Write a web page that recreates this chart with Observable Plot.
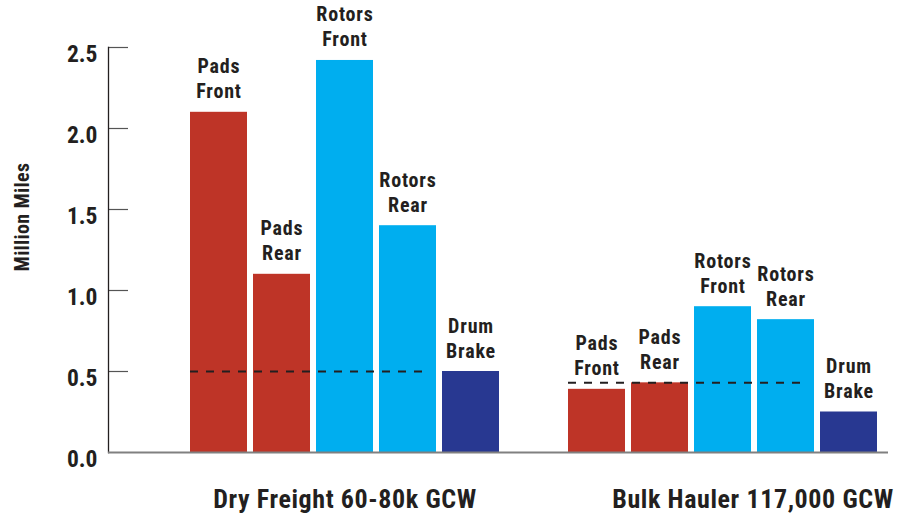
<!DOCTYPE html>
<html>
<head>
<meta charset="utf-8">
<script src="https://cdn.jsdelivr.net/npm/d3@7"></script>
<script src="https://cdn.jsdelivr.net/npm/@observablehq/plot@0.6"></script>
<style>
  html, body { margin: 0; padding: 0; background: #fff; }
  #chart svg { display: block; }
  #chart .bar-label text { letter-spacing: 0.8px; }
  #chart .group-label text { letter-spacing: 0.6px; }
  #chart .y-label text { letter-spacing: 0.4px; }
</style>
</head>
<body>
<div id="chart"></div>
<script>
// ---- data ----
const groups = ["Dry Freight 60-80k GCW", "Bulk Hauler 117,000 GCW"];
const components = ["Pads\nFront", "Pads\nRear", "Rotors\nFront", "Rotors\nRear", "Drum\nBrake"];
const dryFreight = [2.10, 1.10, 2.42, 1.40, 0.50];
const bulkHauler = [0.39, 0.43, 0.90, 0.82, 0.25];
const thresholds = [0.50, 0.43];
const componentColors = ["#BE3427", "#BE3427", "#00AEEF", "#00AEEF", "#283891"];
const yTicks = [0, 0.5, 1.0, 1.5, 2.0, 2.5];
const yLabel = "Million Miles";

// ---- build table ----
const seriesByGroup = [dryFreight, bulkHauler];
const keyOf = (g, c) => g + "|" + c;
const rows = [];
groups.forEach((g, gi) => components.forEach((c, ci) => rows.push({
  key: keyOf(g, c), group: g, label: c, value: seriesByGroup[gi][ci], color: componentColors[ci]
})));
const xDomain = [...components.map(c => keyOf(groups[0], c)), "spacer", ...components.map(c => keyOf(groups[1], c))];
const refRows = groups.map((g, gi) => ({x1: keyOf(g, components[0]), x2: keyOf(g, components[3]), y: thresholds[gi]}));

const W = 910, H = 513, mL = 108, mR = 22, mT = 47, mB = 61;
const ink = "#231f20";
const font = "'Roboto Condensed', Roboto, sans-serif";

const chart = Plot.plot({
  width: W, height: H,
  marginLeft: mL, marginRight: mR, marginTop: mT, marginBottom: mB,
  style: {fontFamily: font, fontStretch: "condensed"},
  x: {type: "band", domain: xDomain, paddingInner: 0.1, paddingOuter: 0.711, align: 0.883, axis: null},
  y: {domain: [0, 2.5], axis: null},
  marks: [
    Plot.barY(rows, {x: "key", y: "value", fill: "color"}),
    Plot.ruleY(refRows, {x1: "x1", x2: "x2", y: "y", stroke: ink, strokeWidth: 2, strokeDasharray: "8,8", insetRight: 6}),
    Plot.text(rows, {x: "key", y: "value", text: "label", dy: -14, lineAnchor: "bottom", lineHeight: 1.25,
      fontSize: 20, fontWeight: "bold", fill: ink, className: "bar-label"}),
    // y axis
    Plot.ruleY(yTicks.filter(d => d > 0), {stroke: "#555", strokeWidth: 1.2, insetRight: W - mL - mR - 20}),
    Plot.axisY({ticks: yTicks, tickSize: 0, tickPadding: 11, tickFormat: d3.format(".1f"),
      fontSize: 23.5, fontWeight: "bold", fill: ink, dy: 7, label: null}),
    Plot.frame({anchor: "left", stroke: ink, strokeWidth: 1.3}),
    Plot.ruleY([0], {stroke: "#808080", strokeWidth: 2}),
    Plot.text([yLabel], {frameAnchor: "left", textAnchor: "middle", rotate: -90, dx: -86, dy: -33, fontSize: 20, fontWeight: "bold", fill: ink, className: "y-label"}),
    // group labels
    Plot.text([groups[0]], {x: () => keyOf(groups[0], components[2]), frameAnchor: "bottom", dy: 55, lineAnchor: "bottom",
      fontSize: 26, fontWeight: "bold", fill: ink, className: "group-label"}),
    Plot.text([groups[1]], {x: () => keyOf(groups[1], components[2]), frameAnchor: "bottom", dy: 55, dx: 30, lineAnchor: "bottom",
      fontSize: 26, fontWeight: "bold", fill: ink, className: "group-label"})
  ]
});
document.getElementById("chart").appendChild(chart);
</script>
</body>
</html>
